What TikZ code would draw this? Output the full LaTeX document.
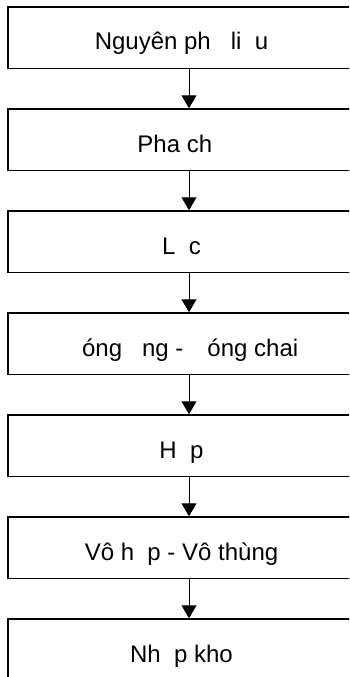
\documentclass[tikz,border=0pt]{standalone}
\usepackage{fontspec}
\setmainfont{Liberation Sans}
\usetikzlibrary{arrows.meta}
\begin{document}
\begin{tikzpicture}[x=1pt,y=-1pt,
  stagebox/.style={draw, line width=1.5pt, minimum width=347pt, minimum height=61.5pt,
    inner sep=0pt, text height=24.5pt, text depth=0pt,
    font=\fontsize{24}{28}\selectfont},
  flow/.style={line width=1pt, -{Triangle[width=15pt,length=13pt]}}]
\useasboundingbox (0,0) rectangle (349,677);
\clip (0,0) rectangle (349,677);
% process stages, top to bottom
\node[stagebox] (s1) at (181.5,37.75)  {Nguyên ph\phantom{ụ} li\phantom{ệ}u\hspace{0.278em}};
\node[stagebox] (s2) at (181.5,139.75) {Pha ch\phantom{ế}};
\node[stagebox] (s3) at (181.5,241.75) {L\phantom{ọ}c};
\node[stagebox] (s4) at (181.5,343.75) {\phantom{Đ}óng \phantom{ố}ng - \phantom{Đ}óng chai};
\node[stagebox] (s5) at (181.5,445.75) {H\phantom{ấ}p};
\node[stagebox] (s6) at (181.5,547.75) {Vô h\phantom{ộ}p - Vô thùng};
\node[stagebox] (s7) at (181.5,649.75) {Nh\phantom{ậ}p kho};
% connectors between consecutive stages
\foreach \a/\b in {s1/s2,s2/s3,s3/s4,s4/s5,s5/s6,s6/s7}
  \draw[flow] ([xshift=7.5pt]\a.south) -- ([xshift=7.5pt]\b.north);
\end{tikzpicture}
\end{document}
